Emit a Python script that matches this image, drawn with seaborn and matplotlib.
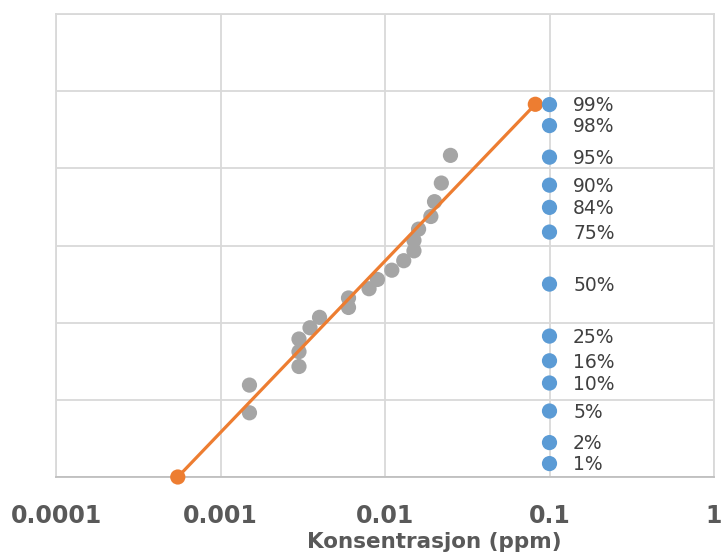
import matplotlib
matplotlib.use("Agg")
import matplotlib.pyplot as plt
import seaborn as sns
import pandas as pd
from matplotlib.ticker import FixedLocator, NullLocator

# Measured concentrations (ppm) and their probit plotting positions
conc = [0.0015, 0.0015, 0.003, 0.003, 0.003, 0.0035, 0.004, 0.006, 0.006, 0.008,
        0.009, 0.011, 0.013, 0.015, 0.015, 0.016, 0.019, 0.020, 0.022, 0.025]
conc_z = [-1.668, -1.309, -1.068, -0.876, -0.712, -0.566, -0.431, -0.303, -0.180, -0.060,
          0.060, 0.180, 0.303, 0.431, 0.566, 0.712, 0.876, 1.068, 1.309, 1.668]

# Fitted line endpoints
fit_x = [0.00055, 0.082]
fit_z = [-2.5, 2.33]

# Percentile reference markers
pct_labels = ["1%", "2%", "5%", "10%", "16%", "25%", "50%", "75%", "84%", "90%", "95%", "98%", "99%"]
pct_z = [-2.326, -2.054, -1.645, -1.282, -0.994, -0.674, 0.0, 0.674, 0.994, 1.282, 1.645, 2.054, 2.326]
pct_x = [0.1] * len(pct_labels)

xtick_vals = [0.0001, 0.001, 0.01, 0.1, 1]
xtick_labels = ["0.0001", "0.001", "0.01", "0.1", "1"]
x_label = "Konsentrasjon (ppm)"

sns.set_theme(style="white")
plt.rcParams['font.family'] = ['DejaVu Sans']

fig = plt.figure(figsize=(7.22, 5.58), dpi=100)
ax = fig.add_axes([56/722, 1 - 477/558, (714-56)/722, (477-14)/558])

grid_c = "#D9D9D9"
gray = "#A5A5A5"
orange = "#ED7D31"
blue = "#5B9BD5"

df_pts = pd.DataFrame({"x": conc, "z": conc_z})
df_fit = pd.DataFrame({"x": fit_x, "z": fit_z})
df_pct = pd.DataFrame({"x": pct_x, "z": pct_z, "label": pct_labels})

sns.scatterplot(data=df_pts, x="x", y="z", ax=ax, color=gray, s=120, edgecolor="none", zorder=3)
sns.lineplot(data=df_fit, x="x", y="z", ax=ax, color=orange, linewidth=2.3, sort=False,
             estimator=None, zorder=4)
sns.scatterplot(data=df_fit, x="x", y="z", ax=ax, color=orange, s=120, edgecolor="none",
                zorder=5, clip_on=False)
sns.scatterplot(data=df_pct, x="x", y="z", ax=ax, color=blue, s=120, edgecolor="none", zorder=5)

for _, r in df_pct.iterrows():
    ax.annotate(r["label"], (r["x"], r["z"]), xytext=(17, -1), textcoords="offset points",
                ha="left", va="center", fontsize=13.5, color="#404040")

ax.set_xscale("log")
ax.set_xlim(1e-4, 1)
ax.set_ylim(-2.5, 3.5)
ax.xaxis.set_major_locator(FixedLocator(xtick_vals))
ax.xaxis.set_minor_locator(NullLocator())
ax.set_xticklabels(xtick_labels)
ax.set_yticks([-2.5, -1.5, -0.5, 0.5, 1.5, 2.5, 3.5])
ax.set_yticklabels([])
ax.grid(True, color=grid_c, linewidth=1.3)
ax.set_axisbelow(True)
ax.tick_params(axis="x", length=0, pad=19.5, labelsize=17, labelcolor="#595959")
ax.tick_params(axis="y", length=0)
for lab in ax.get_xticklabels():
    lab.set_fontweight("bold")
for sp in ax.spines.values():
    sp.set_color(grid_c)
    sp.set_linewidth(1.3)
ax.spines["bottom"].set_color("#BFBFBF")

ax.set_ylabel("")
ax.set_xlabel(x_label, fontsize=15.5, fontweight="bold", color="#595959")
ax.xaxis.set_label_coords(0.575, -0.1195)

fig.savefig("out.png", dpi=100)
